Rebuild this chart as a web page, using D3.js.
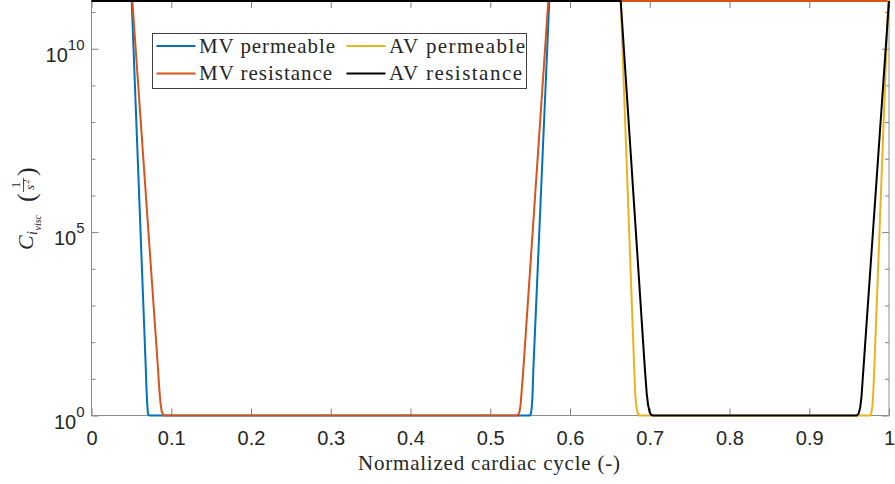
<!DOCTYPE html>
<html>
<head>
<meta charset="utf-8">
<script src="https://cdn.jsdelivr.net/npm/d3@7"></script>
<style>
  body { margin: 0; background: #fff; }
  svg { display: block; }
  .tick line { stroke: #808080; }
  .xlab { font-family: "Liberation Sans", Arial, sans-serif; font-size: 20px; fill: #262626; }
  .serif { font-family: "Liberation Serif", "Times New Roman", serif; fill: #262626; }
</style>
</head>
<body>
<svg id="chart" width="895" height="484"></svg>
<script>
(function () {
    var width = 797.5, height = 414.5

    // x ticks and y decades
    const xTicks = [0, 0.1, 0.2, 0.3, 0.4, 0.5, 0.6, 0.7, 0.8, 0.9, 1]
    const yMajorExp = [0, 5, 10]
    const yMinor = [1e1, 1e2, 1e3, 1e4, 1e6, 1e7, 1e8, 1e9, 1e11]

    // series: normalized cycle vs C_visc
    const mvPermX = [0, 0.0504, 0.0680, 0.0690, 0.0698, 0.0705, 0.0712, 0.0725, 0.5498, 0.5510, 0.5520, 0.5530, 0.5540, 0.5740, 1]
    const mvPermC = [2e11, 2e11, 21, 5, 2.2, 1.3, 1.05, 1, 1, 1.12, 1.6, 3.5, 17, 2e11, 2e11]

    const mvResX = [0, 0.0512, 0.0830, 0.0851, 0.0866, 0.0880, 0.0895, 0.0910, 0.5340, 0.5352, 0.5368, 0.5382, 0.5395, 0.5414, 0.5728, 1]
    const mvResC = [2e11, 2e11, 25, 5, 2.1, 1.3, 1.07, 1, 1, 1.07, 1.3, 2.1, 5, 17, 2e11, 2e11]

    const avPermX = [0, 0.6636, 0.6806, 0.6818, 0.6830, 0.6845, 0.6866, 0.9762, 0.9780, 0.9792, 0.9802, 0.9815, 0.9990, 1]
    const avPermC = [2e11, 2e11, 17, 4, 1.9, 1.25, 1, 1, 1.2, 1.8, 4, 17, 2e11, 2e11]

    const avResX = [0, 0.6636, 0.6940, 0.6962, 0.6980, 0.6998, 0.7016, 0.7040, 0.9595, 0.9618, 0.9638, 0.9655, 0.9678, 1]
    const avResC = [2e11, 2e11, 17, 4, 1.9, 1.25, 1.05, 1, 1, 1.12, 1.6, 3.2, 17, 2e11]

    const seriesNames = ["MV permeable", "MV resistance", "AV permeable", "AV resistance"]
    const seriesColors = ["#0072BD", "#D95319", "#EDB120", "#000000"]

    const series = [
        { name: seriesNames[0], color: seriesColors[0], pts: d3.zip(mvPermX, mvPermC) },
        { name: seriesNames[1], color: seriesColors[1], pts: d3.zip(mvResX, mvResC) },
        { name: seriesNames[2], color: seriesColors[2], pts: d3.zip(avPermX, avPermC) },
        { name: seriesNames[3], color: seriesColors[3], pts: d3.zip(avResX, avResC) }
    ]

    var x = d3.scaleLinear().domain([0, 1]).range([0, width])
    var y = d3.scaleLog().domain([1, 2e11]).range([height, 0])

    var svg = d3.select("#chart")
    const chart = svg.append("g").attr("transform", "translate(91.5, 1)")

    // bottom axis, ticks pointing inward
    chart.append("g")
        .attr("transform", "translate(0," + height + ")")
        .call(d3.axisBottom(x).tickValues(xTicks).tickSize(-7).tickPadding(15)
            .tickFormat((d) => d === 0 || d === 1 ? String(d) : d.toFixed(1)))
        .call((g) => g.select(".domain").remove())
        .call((g) => g.selectAll("text").attr("class", "xlab"))

    // top axis
    chart.append("g")
        .call(d3.axisTop(x).tickValues(xTicks).tickSize(-7).tickFormat(""))
        .call((g) => g.select(".domain").remove())

    // left + right, major and minor decades
    chart.append("g")
        .call(d3.axisLeft(y).tickValues(yMajorExp.map((e) => Math.pow(10, e))).tickSize(-7).tickFormat(""))
        .call((g) => g.select(".domain").remove())
    chart.append("g")
        .call(d3.axisLeft(y).tickValues(yMinor).tickSize(-4).tickFormat(""))
        .call((g) => g.select(".domain").remove())
    chart.append("g")
        .attr("transform", "translate(" + width + ",0)")
        .call(d3.axisRight(y).tickValues(yMajorExp.map((e) => Math.pow(10, e))).tickSize(-7).tickFormat(""))
        .call((g) => g.select(".domain").remove())
    chart.append("g")
        .attr("transform", "translate(" + width + ",0)")
        .call(d3.axisRight(y).tickValues(yMinor).tickSize(-4).tickFormat(""))
        .call((g) => g.select(".domain").remove())

    // y tick labels 10^n
    yMajorExp.forEach((e) => {
        var t = chart.append("text")
            .attr("class", "xlab")
            .attr("text-anchor", "end")
            .attr("x", -7)
            .attr("y", y(Math.pow(10, e)) + 13)
        t.append("tspan").text("10")
        t.append("tspan").attr("dy", -12).attr("font-size", 15).text(e)
    })

    // box
    chart.append("rect")
        .attr("width", width).attr("height", height)
        .attr("fill", "none").attr("stroke", "#8c8c8c").attr("stroke-width", 1)

    // curves (straight segments in log space)
    var line = d3.line()
        .x((d) => x(d[0]))
        .y((d) => y(d[1]))

    chart.append("g")
        .selectAll("path")
        .data(series)
        .join("path")
        .attr("d", (d) => line(d.pts))
        .attr("fill", "none")
        .attr("stroke", (d) => d.color)
        .attr("stroke-width", 2)
        .attr("stroke-linejoin", "round")

    // legend (columns: MV then AV)
    const leg = svg.append("g").attr("transform", "translate(152.5, 33.5)")
    leg.append("rect")
        .attr("width", 374).attr("height", 55)
        .attr("fill", "#fff").attr("stroke", "#404040").attr("stroke-width", 1)
    const legPos = [[0, 0], [0, 1], [1, 0], [1, 1]]
    series.forEach((s, i) => {
        var cx = legPos[i][0] * 190, cy = 12.5 + legPos[i][1] * 27.5
        leg.append("line")
            .attr("x1", cx + 4).attr("x2", cx + 43)
            .attr("y1", cy).attr("y2", cy)
            .attr("stroke", s.color).attr("stroke-width", 2)
        leg.append("text")
            .attr("class", "serif")
            .attr("x", cx + 46.5).attr("y", cy + 6.5)
            .attr("font-size", 21)
            .attr("textLength", i % 2 === 0 ? 136 : 133)
            .attr("lengthAdjust", "spacing")
            .text(s.name)
    })

    // x axis title
    svg.append("text")
        .attr("class", "serif")
        .attr("x", 489).attr("y", 470)
        .attr("text-anchor", "middle")
        .attr("font-size", 21)
        .attr("textLength", 262)
        .attr("lengthAdjust", "spacing")
        .text("Normalized cardiac cycle (-)")

    // y axis title: C_{i_{visc}} (1/s^2), rotated
    const yl = svg.append("g").attr("transform", "translate(33, 250) rotate(-90)")
    yl.append("text").attr("class", "serif").attr("font-style", "italic")
        .attr("font-size", 22).attr("x", 0).attr("y", 0).text("C")
    yl.append("text").attr("class", "serif").attr("font-style", "italic")
        .attr("font-size", 14).attr("x", 15).attr("y", 4).text("i")
    yl.append("text").attr("class", "serif").attr("font-style", "italic")
        .attr("font-size", 10).attr("x", 19.5).attr("y", 8).text("visc")
    yl.append("text").attr("class", "serif")
        .attr("font-size", 26).attr("x", 48).attr("y", 2).text("(")
    yl.append("text").attr("class", "serif")
        .attr("font-size", 13).attr("x", 65).attr("y", -13).attr("text-anchor", "middle").text("1")
    yl.append("line")
        .attr("x1", 58).attr("x2", 72).attr("y1", -9.5).attr("y2", -9.5)
        .attr("stroke", "#262626").attr("stroke-width", 0.8)
    yl.append("text").attr("class", "serif").attr("font-style", "italic")
        .attr("font-size", 13).attr("x", 60).attr("y", 1).text("s")
    yl.append("text").attr("class", "serif")
        .attr("font-size", 9).attr("x", 66).attr("y", -4).text("2")
    yl.append("text").attr("class", "serif")
        .attr("font-size", 26).attr("x", 74).attr("y", 2).text(")")
})();
</script>
</body>
</html>
